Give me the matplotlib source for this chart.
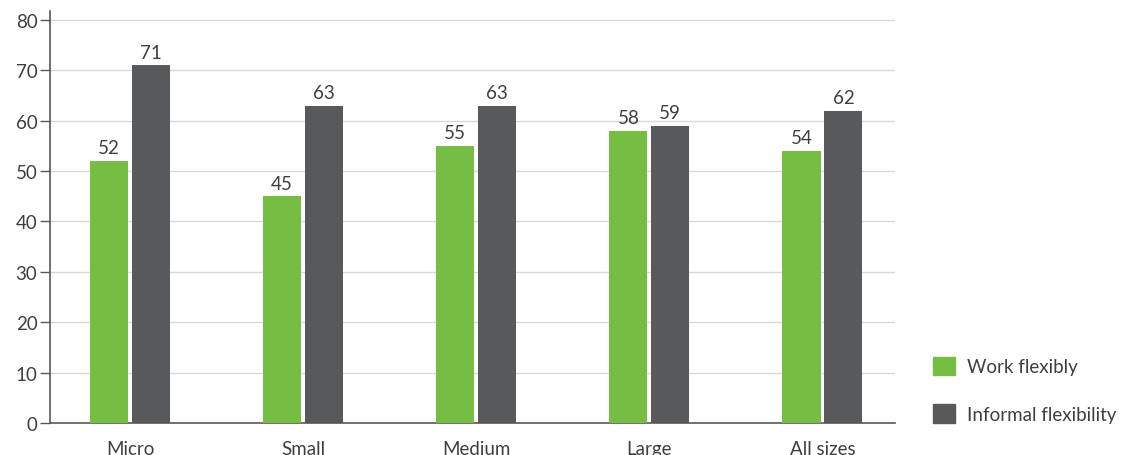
import numpy as np
import matplotlib.pyplot as plt
from matplotlib.patches import Patch

# Porcentajes por tamaño de empresa
categorias = ['Micro', 'Small', 'Medium', 'Large', 'All sizes']
work_flexibly = [52, 45, 55, 58, 54]
informal_flex = [71, 63, 63, 59, 62]
series_nombres = ['Work flexibly', 'Informal flexibility']

VERDE = '#76bd43'
GRIS = '#58595b'
TEXTO = '#3f3f3f'
FS = 13.5

plt.rcParams['font.family'] = ['Lato', 'DejaVu Sans']

fig = plt.figure(figsize=(11.33, 4.56), dpi=100)
ax = fig.add_axes([0.0441, 0.0702, 0.746, 0.904])

x = np.arange(len(categorias))
ancho = 0.22
desp = 0.121

b1 = ax.bar(x - desp, work_flexibly, ancho, color=VERDE, zorder=3)
b2 = ax.bar(x + desp, informal_flex, ancho, color=GRIS, zorder=3)

# Etiquetas de valor encima de cada barra
for barras, vals in ((b1, work_flexibly), (b2, informal_flex)):
    for b, v in zip(barras, vals):
        ax.text(b.get_x() + b.get_width() / 2, v + 0.9, str(v),
                ha='center', va='bottom', fontsize=FS, color=TEXTO)

ax.set_xlim(-0.462, 4.42)
ax.set_ylim(0, 81.8)
ax.set_yticks(range(0, 81, 10))
ax.set_xticks(x)
ax.set_xticklabels(categorias)
ax.tick_params(axis='y', length=7, width=1, color='#595959', labelsize=FS,
               labelcolor=TEXTO, pad=2)
ax.tick_params(axis='x', length=0, labelsize=FS, labelcolor=TEXTO, pad=12)

ax.grid(axis='y', color='#d9d9d9', linewidth=1, zorder=0)
for lado in ('top', 'right'):
    ax.spines[lado].set_visible(False)
ax.spines['left'].set_color('#595959')
ax.spines['bottom'].set_color('#595959')
ax.spines['left'].set_linewidth(1.2)
ax.spines['bottom'].set_linewidth(1.2)

handles = [Patch(color=VERDE), Patch(color=GRIS)]
fig.legend(handles, series_nombres, loc='upper left',
           bbox_to_anchor=(0.8155, 0.236), frameon=False, fontsize=FS,
           labelcolor=TEXTO, handlelength=1.15, handleheight=1.15,
           handletextpad=0.62, labelspacing=1.55, borderpad=0)

fig.savefig('out.png', dpi=100)
